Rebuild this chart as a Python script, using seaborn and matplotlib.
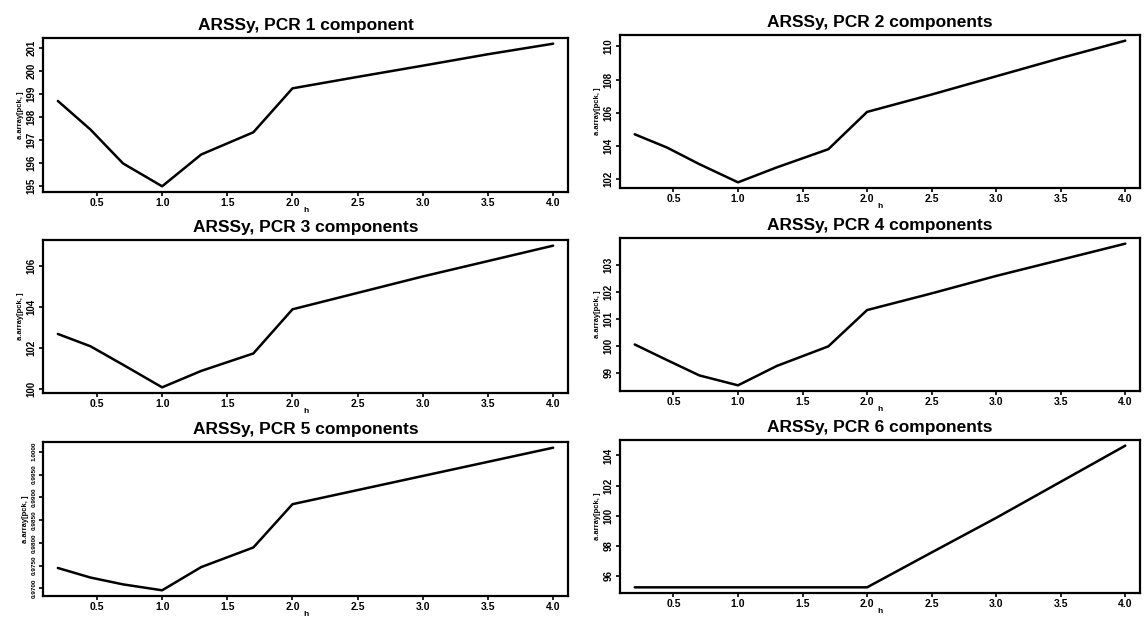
import numpy as np
import pandas as pd
import matplotlib
matplotlib.use("Agg")
import matplotlib.pyplot as plt
import seaborn as sns

# Bandwidth grid and ARSS values for PCR models with 1..6 components
h = [0.2, 0.45, 0.7, 1.0, 1.3, 1.7, 2.0, 2.5, 3.0, 3.5, 4.0]
arss_pcr1 = [198.70, 197.45, 195.97, 194.97, 196.36, 197.33, 199.25, 199.75, 200.24, 200.74, 201.20]
arss_pcr2 = [104.70, 103.90, 102.90, 101.80, 102.70, 103.80, 106.05, 107.10, 108.20, 109.30, 110.35]
arss_pcr3 = [102.70, 102.10, 101.20, 100.10, 100.90, 101.75, 103.90, 104.70, 105.50, 106.25, 107.00]
arss_pcr4 = [100.05, 99.47, 98.90, 98.53, 99.25, 99.98, 101.33, 101.95, 102.60, 103.20, 103.80]
arss_pcr5 = [0.9745, 0.9724, 0.9709, 0.9696, 0.9747, 0.9790, 0.9885, 0.9916, 0.9947, 0.9978, 1.0009]
arss_pcr6 = [95.23, 95.23, 95.23, 95.23, 95.23, 95.23, 95.23, 97.55, 99.85, 102.25, 104.65]

titles = ["ARSSy, PCR 1 component", "ARSSy, PCR 2 components",
          "ARSSy, PCR 3 components", "ARSSy, PCR 4 components",
          "ARSSy, PCR 5 components", "ARSSy, PCR 6 components"]
series = [arss_pcr1, arss_pcr2, arss_pcr3, arss_pcr4, arss_pcr5, arss_pcr6]
x_ticks = [0.5, 1.0, 1.5, 2.0, 2.5, 3.0, 3.5, 4.0]
y_ticks = [
    [195, 196, 197, 198, 199, 200, 201],
    [102, 104, 106, 108, 110],
    [100, 102, 104, 106],
    [99, 100, 101, 102, 103],
    [0.9700, 0.9750, 0.9800, 0.9850, 0.9900, 0.9950, 1.0000],
    [96, 98, 100, 102, 104],
]
y_fmt = ["{:.0f}", "{:.0f}", "{:.0f}", "{:.0f}", "{:.4f}", "{:.0f}"]
y_size = [7, 7, 7, 7, 4.6, 7]
y_label = "a.array[pck, ]"

sns.set_style("ticks")
plt.rcParams["font.family"] = ["Liberation Sans", "DejaVu Sans"]
plt.rcParams["text.color"] = "black"
plt.rcParams["axes.labelcolor"] = "black"

W, H = 1145, 617
fig = plt.figure(figsize=(W / 100, H / 100), dpi=100)

# panel boxes in pixels: (x0, y0, x1, y1), top-left origin
boxes = [
    (43, 38, 568, 192), (620, 35, 1140, 188),
    (43, 240, 568, 393), (620, 238, 1140, 391),
    (43, 442, 568, 596), (620, 440, 1140, 593),
]

for i, (box, vals) in enumerate(zip(boxes, series)):
    x0, y0, x1, y1 = box
    ax = fig.add_axes([x0 / W, 1 - y1 / H, (x1 - x0) / W, (y1 - y0) / H])
    df = pd.DataFrame({"h": h, "arss": vals})
    sns.lineplot(data=df, x="h", y="arss", ax=ax, color="black",
                 linewidth=1.8, estimator=None, sort=False)
    ax.margins(x=0.03, y=0.04)
    ax.set_xticks(x_ticks)
    ax.set_xticklabels([f"{t:.1f}" for t in x_ticks], fontsize=7.5,
                       fontweight="bold")
    ax.set_yticks(y_ticks[i])
    ax.set_yticklabels([y_fmt[i].format(t) for t in y_ticks[i]],
                       fontsize=y_size[i], fontweight="bold", rotation=90,
                       va="center")
    ax.tick_params(axis="both", direction="out", length=3, width=1.2,
                   pad=1.5, colors="black")
    ax.set_xlabel("h", fontsize=6, fontweight="bold", labelpad=-1,
                  color="black")
    ax.set_ylabel(y_label, fontsize=5.5, fontweight="bold", labelpad=2,
                  color="black")
    ax.set_title(titles[i], fontsize=12.5, fontweight="bold", pad=6,
                 color="black")
    for sp in ax.spines.values():
        sp.set_visible(True)
        sp.set_linewidth(1.6)
        sp.set_color("black")

fig.savefig("out.png", dpi=100, facecolor="white")
